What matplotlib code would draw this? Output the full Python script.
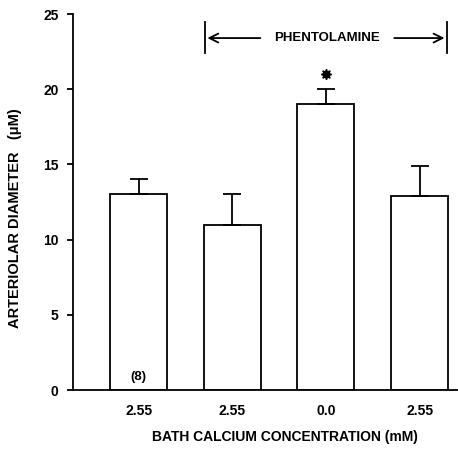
import matplotlib
matplotlib.use("Agg")
import matplotlib.pyplot as plt

categories = ["2.55", "2.55", "0.0", "2.55"]
means = [13.0, 11.0, 19.0, 12.9]
sem = [1.0, 2.0, 1.0, 2.0]
yticks = [0, 5, 10, 15, 20, 25]

W, H = 458, 454
fig = plt.figure(figsize=(W / 100, H / 100), dpi=100)
ax = fig.add_axes([73 / W, 1 - 390 / H, (W - 73) / W, 376 / H])

font = dict(family="Liberation Sans", weight="bold")
pos = list(range(len(categories)))
ax.bar(pos, means, width=0.61, facecolor="white", edgecolor="black", linewidth=1.3, zorder=2)
ax.errorbar(pos, means, yerr=[[0] * len(sem), sem], fmt="none", ecolor="black",
            elinewidth=1.3, capsize=6.5, capthick=1.3, zorder=3)

ax.set_xlim(-0.70, 3.41)
ax.set_ylim(0, 25)
ax.set_yticks(yticks)
ax.set_yticklabels([str(t) for t in yticks], fontsize=10, **font)
ax.set_xticks(pos)
ax.set_xticklabels(categories, fontsize=10, **font)
ax.tick_params(axis="x", length=0, pad=10)
ax.tick_params(axis="y", length=4.5, width=1.3, pad=6)
for s in ["top", "right"]:
    ax.spines[s].set_visible(False)
for s in ["left", "bottom"]:
    ax.spines[s].set_linewidth(1.3)
ax.spines["bottom"].set_zorder(4)

ax.text(0, 0.85, "(8)", ha="center", va="center", fontsize=9.5, **font)
ax.plot([2], [21.0], marker=(8, 1, 0), markersize=7.5, color="black", clip_on=False)

# phentolamine bracket
yb = 23.4
ax.plot([0.705, 0.705], [22.4, 24.5], color="black", lw=1.3, clip_on=False)
ax.plot([3.295, 3.295], [22.4, 24.5], color="black", lw=1.3, clip_on=False)
ax.annotate("", xy=(0.705, yb), xytext=(1.33, yb),
            arrowprops=dict(arrowstyle="->", lw=1.3, color="black", mutation_scale=16))
ax.annotate("", xy=(3.295, yb), xytext=(2.7, yb),
            arrowprops=dict(arrowstyle="->", lw=1.3, color="black", mutation_scale=16))
ax.text(2.01, yb, "PHENTOLAMINE", ha="center", va="center", fontsize=9.5, **font)

fig.text(15 / W, 1 - 218 / H, "ARTERIOLAR DIAMETER   (\u03bcM)", rotation=90,
         ha="center", va="center", fontsize=10.5, **font)
fig.text(285 / W, 1 - 437 / H, "BATH CALCIUM CONCENTRATION (mM)",
         ha="center", va="center", fontsize=10, **font)

fig.savefig("out.png", dpi=100)
